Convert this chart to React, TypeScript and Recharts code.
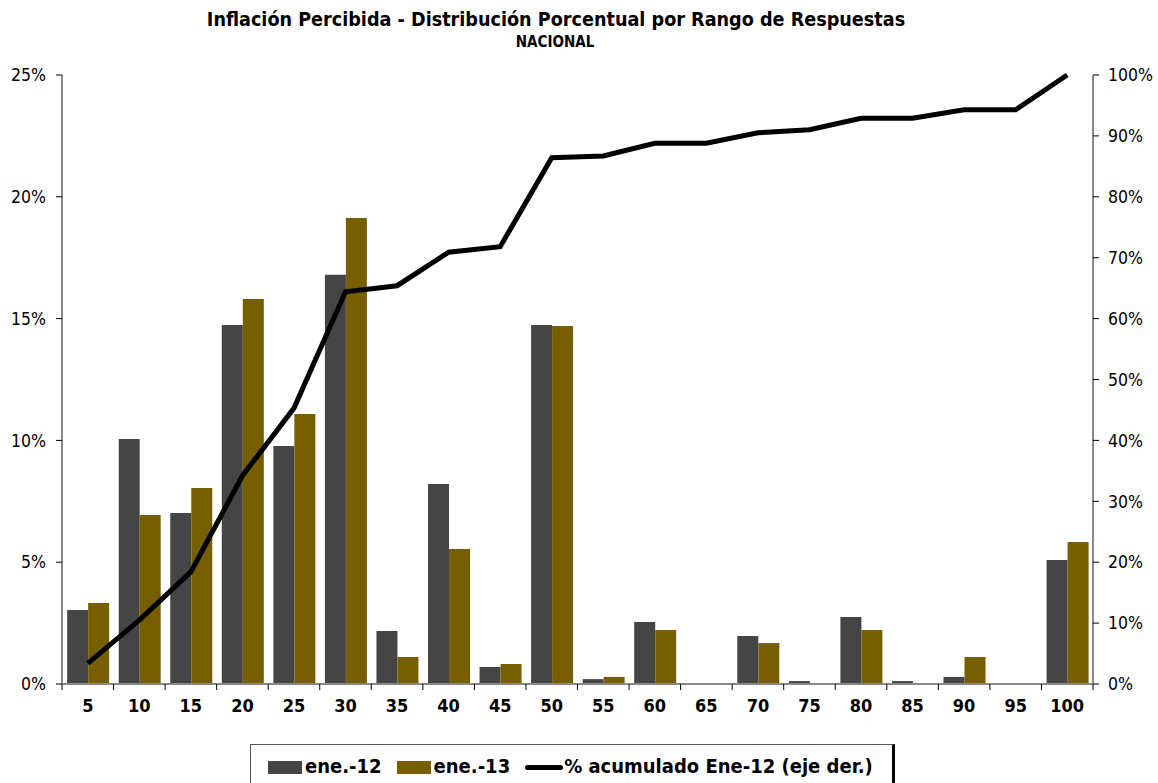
import React from "react";
import {
  Bar,
  ComposedChart,
  Line,
  XAxis,
  YAxis,
} from "recharts";

const rangos = ["5", "10", "15", "20", "25", "30", "35", "40", "45", "50", "55", "60", "65", "70", "75", "80", "85", "90", "95", "100"];
const ene12 = [3.04, 10.06, 7.02, 14.74, 9.77, 16.8, 2.18, 8.21, 0.7, 14.74, 0.2, 2.55, 0, 1.97, 0.12, 2.75, 0.12, 0.29, 0, 5.09];
const ene13 = [3.33, 6.94, 8.05, 15.8, 11.08, 19.13, 1.11, 5.54, 0.82, 14.7, 0.29, 2.22, 0, 1.68, 0, 2.22, 0, 1.11, 0, 5.83];
const acumulado = [3.4, 10.5, 18.4, 34.2, 45.3, 64.4, 65.4, 70.9, 71.8, 86.4, 86.7, 88.8, 88.8, 90.5, 91.0, 92.9, 92.9, 94.3, 94.3, 100];
const leftTicks = [0, 5, 10, 15, 20, 25];
const rightTicks = [0, 10, 20, 30, 40, 50, 60, 70, 80, 90, 100];

const data = rangos.map((r, i) => ({
  rango: r,
  ene12: ene12[i],
  ene13: ene13[i],
  acum: acumulado[i],
}));

const FONT = "'DejaVu Sans Condensed', 'DejaVu Sans', sans-serif";
const GRAY = "#454545";
const OLIVE = "#775e00";

function XTick(props: any) {
  const { x, y, payload, index } = props;
  const bw = 1031 / rangos.length;
  const left = x - bw / 2;
  return (
    <g>
      <line x1={left} y1={y - 8} x2={left} y2={y - 2} stroke="#000" strokeWidth={1} />
      {index === rangos.length - 1 && (
        <line x1={x + bw / 2} y1={y - 8} x2={x + bw / 2} y2={y - 2} stroke="#000" strokeWidth={1} />
      )}
      <text x={x} y={y + 20} textAnchor="middle" fontFamily={FONT} fontWeight="bold" fontSize={18} fill="#000">
        {payload.value}
      </text>
    </g>
  );
}

function Legend() {
  return (
    <div
      style={{
        position: "absolute",
        left: 250,
        top: 744,
        width: 645,
        height: 45,
        borderLeft: "1px solid #555",
        borderTop: "1px solid #555",
        borderRight: "3px solid #000",
        boxSizing: "border-box",
        fontFamily: FONT,
        fontWeight: "bold",
        fontSize: 20,
        display: "flex",
        alignItems: "flex-start",
        paddingTop: 9,
        paddingLeft: 17,
        color: "#000",
        whiteSpace: "nowrap",
      }}
    >
      <span style={{ display: "inline-block", width: 34, height: 13, background: GRAY, marginTop: 7 }} />
      <span style={{ marginLeft: 3 }}>ene.-12</span>
      <span style={{ display: "inline-block", width: 34, height: 13, background: OLIVE, marginTop: 7, marginLeft: 15 }} />
      <span style={{ marginLeft: 3 }}>ene.-13</span>
      <span style={{ display: "inline-block", width: 38, height: 5, background: "#000", marginTop: 11, marginLeft: 15, borderRadius: 3 }} />
      <span style={{ marginLeft: 1 }}>% acumulado Ene-12 (eje der.)</span>
    </div>
  );
}

export default function App() {
  return (
    <div style={{ position: "absolute", left: 0, top: 0, width: 1158, height: 783, background: "#fff", overflow: "hidden" }}>
      <div
        style={{
          position: "absolute",
          left: 0,
          width: 1112,
          top: 8,
          textAlign: "center",
          fontFamily: FONT,
          fontWeight: "bold",
          fontSize: 19.6,
          color: "#000",
        }}
      >
        Inflación Percibida - Distribución Porcentual por Rango de Respuestas
      </div>
      <div
        style={{
          position: "absolute",
          left: 0,
          width: 1110,
          top: 33,
          textAlign: "center",
          fontFamily: FONT,
          fontWeight: "bold",
          fontSize: 15,
          color: "#000",
        }}
      >
        NACIONAL
      </div>
      <ComposedChart
        width={1158}
        height={783}
        data={data}
        margin={{ top: 75, right: 0, bottom: 69, left: 0 }}
        barCategoryGap="10%"
        barGap={0}
      >
        <XAxis
          dataKey="rango"
          xAxisId="x"
          height={30}
          stroke="#888"
          axisLine={{ stroke: "#888", strokeWidth: 2 }}
          tickLine={false}
          tick={<XTick />}
          interval={0}
        />
        <YAxis
          yAxisId="left"
          width={62}
          domain={[0, 25]}
          ticks={leftTicks}
          tickFormatter={(v: number) => `${v}%`}
          axisLine={{ stroke: "#888", strokeWidth: 2 }}
          tickLine={{ stroke: "#000" }}
          tickSize={6}
          tickMargin={10}
          tick={{ fontFamily: FONT, fontSize: 17.5, fill: "#000" }}
        />
        <YAxis
          yAxisId="right"
          orientation="right"
          width={65}
          domain={[0, 100]}
          ticks={rightTicks}
          tickFormatter={(v: number) => `${v}%`}
          axisLine={{ stroke: "#888", strokeWidth: 2 }}
          tickLine={{ stroke: "#000" }}
          tickSize={6}
          tickMargin={9}
          tick={{ fontFamily: FONT, fontSize: 17.5, fill: "#000", textAnchor: "start" }}
        />
        <Bar xAxisId="x" yAxisId="left" dataKey="ene12" fill={GRAY} isAnimationActive={false} />
        <Bar xAxisId="x" yAxisId="left" dataKey="ene13" fill={OLIVE} isAnimationActive={false} />
        <Line
          xAxisId="x"
          yAxisId="right"
          dataKey="acum"
          type="linear"
          stroke="#000"
          strokeWidth={5}
          dot={false}
          isAnimationActive={false}
        />
      </ComposedChart>
      <Legend />
    </div>
  );
}
